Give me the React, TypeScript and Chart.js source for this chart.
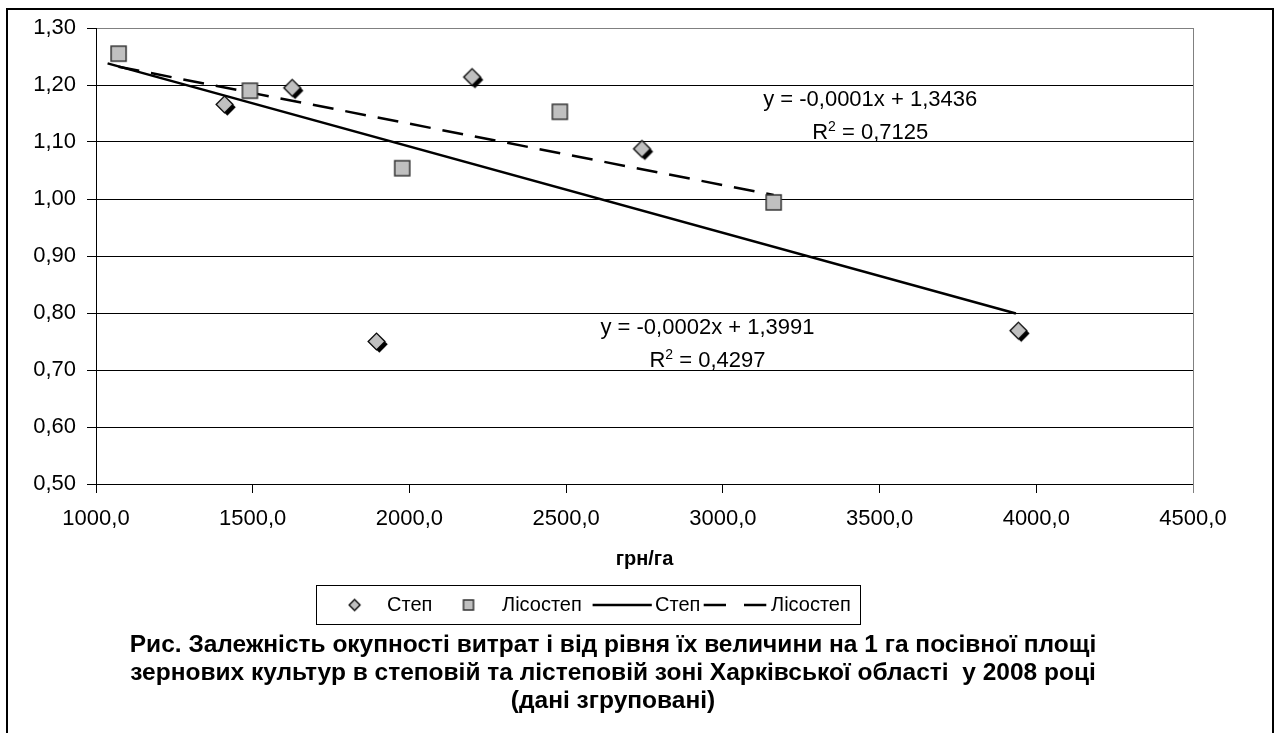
import React, { useEffect, useRef } from 'react';
import { Chart, registerables } from 'chart.js';

Chart.register(...registerables);

const FONT = '"Liberation Sans", Arial, sans-serif';

// ---- data ----
const seriesNames = ['Степ', 'Лісостеп'];
const stepX = [1410, 1626, 1895, 2200, 2742, 3943];
const stepY = [1.166, 1.195, 0.75, 1.214, 1.088, 0.769];
const forestX = [1072, 1491, 1977, 2480, 3162];
const forestY = [1.255, 1.19, 1.054, 1.153, 0.994];
const stepTrendX = [1037, 3935];
const stepTrendY = [1.238, 0.799];
const forestTrendX = [1072, 3162];
const forestTrendY = [1.232, 1.007];

const xMin = 1000;
const xMax = 4500;
const xStep = 500;
const yMin = 0.5;
const yMax = 1.3;
const yStep = 0.1;

const axisTitle = 'грн/га';
const stepEq = 'y = -0,0002x + 1,3991';
const stepR2 = '0,4297';
const forestEq = 'y = -0,0001x + 1,3436';
const forestR2 = '0,7125';
const stepEqAnchor = [2951, 0.763];
const forestEqAnchor = [3470, 1.163];

const figureTitle = [
  'Рис. Залежність окупності витрат і від рівня їх величини на 1 га посівної площі',
  'зернових культур в степовій та лістеповій зоні Харківської області  у 2008 році',
  '(дані згруповані)',
];

const fmt = (v: number, d: number) => Number(v).toFixed(d).replace('.', ',');

function makeDiamond(r: number, shadow: boolean): HTMLCanvasElement {
  const size = Math.ceil(r * 2 + 10);
  const c = document.createElement('canvas');
  c.width = size;
  c.height = size;
  const ctx = c.getContext('2d')!;
  const cx = size / 2;
  const cy = size / 2;
  const path = (x: number, y: number) => {
    ctx.beginPath();
    ctx.moveTo(x, y - r);
    ctx.lineTo(x + r, y);
    ctx.lineTo(x, y + r);
    ctx.lineTo(x - r, y);
    ctx.closePath();
  };
  if (shadow) {
    path(cx + 2.8, cy + 2.8);
    ctx.fillStyle = '#000';
    ctx.fill();
  }
  path(cx, cy);
  ctx.fillStyle = '#c0c0c0';
  ctx.fill();
  ctx.lineWidth = 1.3;
  ctx.strokeStyle = '#000';
  ctx.stroke();
  return c;
}

function makeSquare(side: number): HTMLCanvasElement {
  const size = Math.ceil(side + 4);
  const c = document.createElement('canvas');
  c.width = size;
  c.height = size;
  const ctx = c.getContext('2d')!;
  const o = (size - side) / 2;
  ctx.fillStyle = '#c0c0c0';
  ctx.fillRect(o, o, side, side);
  ctx.lineWidth = 1.5;
  ctx.strokeStyle = '#333';
  ctx.strokeRect(o, o, side, side);
  return c;
}

const framePlugin = {
  id: 'frame',
  beforeDraw(chart: any) {
    const ctx = chart.ctx;
    ctx.save();
    ctx.fillStyle = '#fff';
    ctx.fillRect(0, 0, chart.width, chart.height);
    ctx.lineWidth = 2;
    ctx.strokeStyle = '#000';
    ctx.strokeRect(7, 9, 1266, 740);
    ctx.restore();
  },
  beforeDatasetsDraw(chart: any) {
    const { ctx, chartArea } = chart;
    ctx.save();
    ctx.strokeStyle = '#808080';
    ctx.lineWidth = 1;
    ctx.beginPath();
    ctx.moveTo(Math.round(chartArea.right) + 0.5, chartArea.top);
    ctx.lineTo(Math.round(chartArea.right) + 0.5, chartArea.bottom + 9);
    ctx.stroke();
    ctx.restore();
  },
};

function drawR2(ctx: CanvasRenderingContext2D, cx: number, baseline: number, value: string) {
  const big = `22px ${FONT}`;
  const small = `14px ${FONT}`;
  ctx.font = big;
  const wR = ctx.measureText('R').width;
  const rest = ' = ' + value;
  const wRest = ctx.measureText(rest).width;
  ctx.font = small;
  const w2 = ctx.measureText('2').width;
  const total = wR + w2 + wRest;
  let x = cx - total / 2;
  ctx.textAlign = 'left';
  ctx.textBaseline = 'alphabetic';
  ctx.font = big;
  ctx.fillText('R', x, baseline);
  x += wR;
  ctx.font = small;
  ctx.fillText('2', x, baseline - 8);
  x += w2;
  ctx.font = big;
  ctx.fillText(rest, x, baseline);
}

const textPlugin = {
  id: 'texts',
  afterDraw(chart: any) {
    const { ctx, chartArea, scales } = chart;
    ctx.save();
    ctx.fillStyle = '#000';

    // trend equations
    const eqs: [string, string, number[]][] = [
      [stepEq, stepR2, stepEqAnchor],
      [forestEq, forestR2, forestEqAnchor],
    ];
    eqs.forEach(([eq, r2, a]) => {
      const cx = scales.x.getPixelForValue(a[0]);
      const by = scales.y.getPixelForValue(a[1]);
      ctx.font = `22px ${FONT}`;
      ctx.textAlign = 'center';
      ctx.textBaseline = 'alphabetic';
      ctx.fillText(eq, cx, by);
      drawR2(ctx, cx, by + 33, r2);
    });

    // axis title
    ctx.font = `bold 20px ${FONT}`;
    ctx.textAlign = 'center';
    ctx.textBaseline = 'alphabetic';
    ctx.fillText(axisTitle, (chartArea.left + chartArea.right) / 2, 565);

    // legend
    const ds = chart.data.datasets;
    const ly = 605;
    ctx.lineWidth = 1;
    ctx.strokeStyle = '#000';
    ctx.strokeRect(316.5, 585.5, 544, 39);
    ctx.font = `20px ${FONT}`;
    ctx.textAlign = 'left';
    ctx.textBaseline = 'middle';
    const d = makeDiamond(5.5, false);
    ctx.drawImage(d, 354.6 - d.width / 2, ly - d.height / 2);
    ctx.fillText(ds[0].label, 387, ly);
    const s = makeSquare(10);
    ctx.drawImage(s, 468.5 - s.width / 2, ly - s.height / 2);
    ctx.fillText(ds[1].label, 502, ly);
    ctx.lineWidth = 2.5;
    ctx.beginPath();
    ctx.moveTo(592.6, ly);
    ctx.lineTo(651.8, ly);
    ctx.stroke();
    ctx.fillText(ds[2].label, 655, ly);
    ctx.setLineDash([22.3, 18]);
    ctx.beginPath();
    ctx.moveTo(703.7, ly);
    ctx.lineTo(767, ly);
    ctx.stroke();
    ctx.setLineDash([]);
    ctx.fillText(ds[3].label, 771, ly);

    // figure title
    ctx.font = `bold 24.5px ${FONT}`;
    ctx.textAlign = 'center';
    ctx.textBaseline = 'alphabetic';
    figureTitle.forEach((line, i) => {
      ctx.fillText(line, 613, 652 + i * 28);
    });
    ctx.restore();
  },
};

export default function App() {
  const ref = useRef<HTMLCanvasElement | null>(null);

  useEffect(() => {
    if (!ref.current) return;
    Chart.defaults.font.family = FONT;
    const diamond = makeDiamond(8.4, true);
    const square = makeSquare(15);
    const chart = new Chart(ref.current, {
      type: 'scatter',
      data: {
        datasets: [
          {
            label: seriesNames[0],
            data: stepX.map((x, i) => ({ x, y: stepY[i] })),
            pointStyle: diamond as any,
            pointRadius: 8,
            showLine: false,
          },
          {
            label: seriesNames[1],
            data: forestX.map((x, i) => ({ x, y: forestY[i] })),
            pointStyle: square as any,
            pointRadius: 8,
            showLine: false,
          },
          {
            label: seriesNames[0],
            data: stepTrendX.map((x, i) => ({ x, y: stepTrendY[i] })),
            showLine: true,
            pointRadius: 0,
            borderColor: '#000',
            borderWidth: 2.5,
          },
          {
            label: seriesNames[1],
            data: forestTrendX.map((x, i) => ({ x, y: forestTrendY[i] })),
            showLine: true,
            pointRadius: 0,
            borderColor: '#000',
            borderWidth: 2.5,
            borderDash: [21, 12],
          },
        ],
      } as any,
      options: {
        animation: false,
        responsive: false,
        devicePixelRatio: 1,
        layout: { padding: { top: 28, right: 81, left: 0, bottom: 0 } },
        plugins: {
          legend: { display: false },
          tooltip: { enabled: false },
          title: { display: false },
        },
        scales: {
          x: {
            type: 'linear',
            min: xMin,
            max: xMax,
            ticks: {
              stepSize: xStep,
              callback: (v: any) => fmt(v, 1),
              color: '#000',
              font: { size: 22 },
              padding: 13,
              maxRotation: 0,
              autoSkip: false,
            },
            grid: { drawOnChartArea: false, drawTicks: true, tickLength: 9, tickColor: '#000' },
            border: { display: true, color: '#000', width: 1 },
            afterFit: (s: any) => {
              s.height = 249;
            },
          },
          y: {
            type: 'linear',
            min: yMin,
            max: yMax,
            ticks: {
              stepSize: yStep,
              callback: (v: any) => fmt(v, 2),
              color: '#000',
              font: { size: 22 },
              padding: 11,
            },
            grid: {
              color: (c: any) => (c.tick && c.tick.value > yMax - 0.001 ? '#808080' : '#000'),
              tickLength: 9,
              tickColor: '#000',
              lineWidth: 1,
            },
            border: { display: true, color: '#000', width: 1 },
            afterFit: (s: any) => {
              s.width = 96;
            },
          },
        },
      } as any,
      plugins: [framePlugin, textPlugin],
    });
    return () => chart.destroy();
  }, []);

  return (
    <div style={{ position: 'absolute', left: 0, top: 0, width: 1274, height: 733, background: '#fff' }}>
      <canvas ref={ref} width={1274} height={733} style={{ display: 'block' }} />
    </div>
  );
}
